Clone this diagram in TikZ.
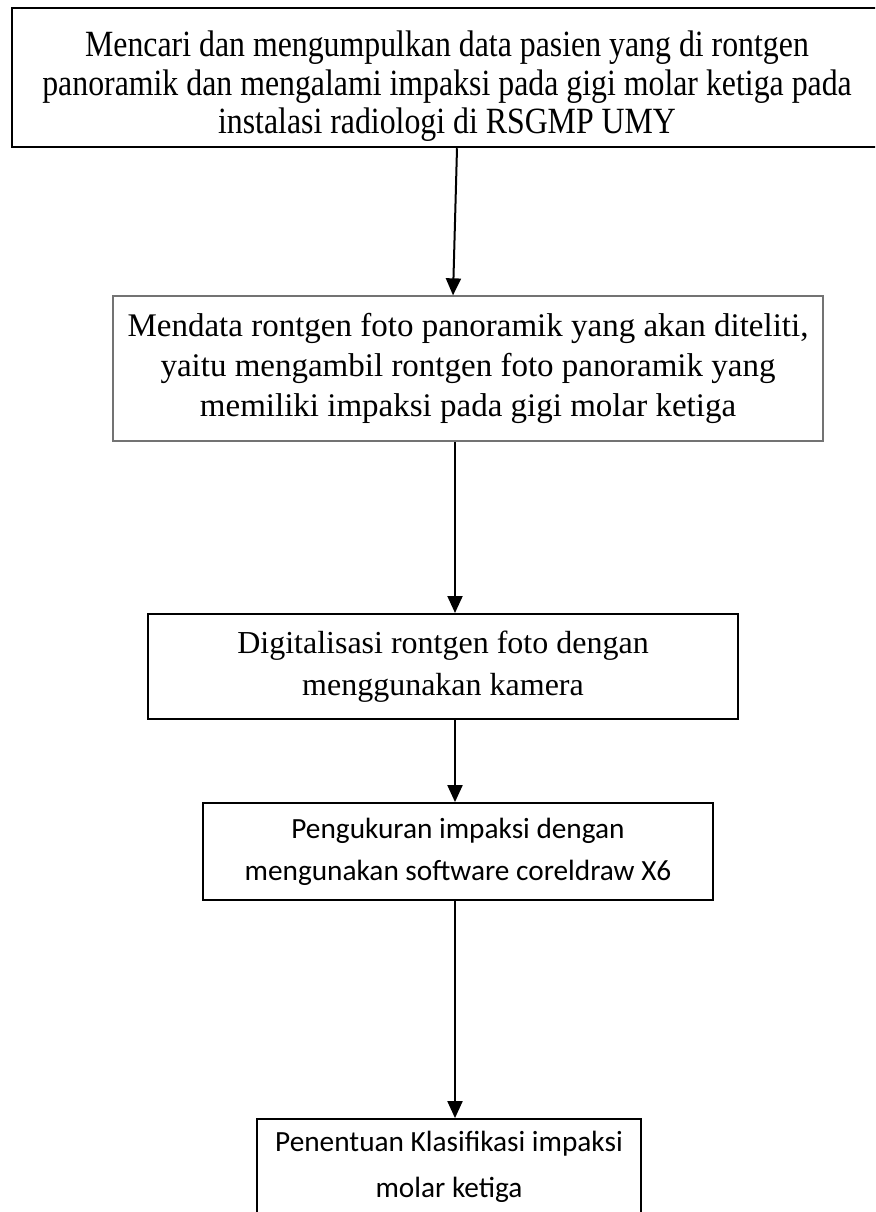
\documentclass[tikz,border=0pt]{standalone}
\usepackage{fontspec}
\setmainfont{Liberation Serif}
\newfontfamily\narrowserif[FakeStretch=0.86]{Liberation Serif}
\newfontfamily\calibrifont{Carlito}
\usetikzlibrary{arrows.meta}
\begin{document}
\begin{tikzpicture}[x=1pt,y=-1pt,
  boxbase/.style={rectangle,draw=black,align=center,inner sep=0pt},
  serifbox/.style={boxbase,line width=2pt,font=\fontsize{32}{42}\selectfont},
  greybox/.style={boxbase,draw=black!55,line width=1.3pt,font=\fontsize{33}{40}\selectfont},
  sansbox/.style={boxbase,line width=1.8pt,font=\calibrifont\fontsize{29.3}{42}\selectfont},
  toptext/.style={align=center,inner sep=0pt,font=\narrowserif\fontsize{37}{38.5}\selectfont},
  arr/.style={line width=2pt,-{Triangle[length=17pt,width=15pt]}}]
\useasboundingbox (0,0) rectangle (875,1212);
\clip (0,0) rectangle (875,1212);
\fill[white] (0,0) rectangle (875,1212);

\node[boxbase,line width=2.5pt,minimum width=878pt,minimum height=139pt] (b1) at (451,77.5) {};
\node[toptext] (b1text) at ([xshift=-4pt,yshift=-9pt]b1.center)
  {Mencari dan mengumpulkan data pasien yang di rontgen\\
   panoramik dan mengalami impaksi pada gigi molar ketiga pada\\
   instalasi radiologi di RSGMP UMY};

\node[greybox,minimum width=710pt,minimum height=145pt] (b2) at (468,368.5)
  {Mendata rontgen foto panoramik yang akan diteliti,\\
   yaitu mengambil rontgen foto panoramik yang\\
   memiliki impaksi pada gigi molar ketiga};

\node[serifbox,minimum width=590pt,minimum height=105pt] (b3) at (443,666.5)
  {Digitalisasi rontgen foto dengan\\
   menggunakan kamera};

\node[sansbox,minimum width=510pt,minimum height=97pt] (b4) at (458,851.5)
  {Pengukuran impaksi dengan\\
   mengunakan software coreldraw X6};

\node[sansbox,font=\calibrifont\fontsize{29.3}{46}\selectfont,minimum width=384pt,minimum height=96pt] (b5) at (449,1167)
  {Penentuan Klasifikasi impaksi\\
   molar ketiga};

\draw[arr] ([xshift=6pt]b1.south) -- ([xshift=-15pt]b2.north);
\draw[arr] ([xshift=-13pt]b2.south) -- ([xshift=12pt]b3.north);
\draw[arr] ([xshift=12pt]b3.south) -- ([xshift=-3pt]b4.north);
\draw[arr] ([xshift=-3pt]b4.south) -- ([xshift=6pt]b5.north);
\end{tikzpicture}
\end{document}
